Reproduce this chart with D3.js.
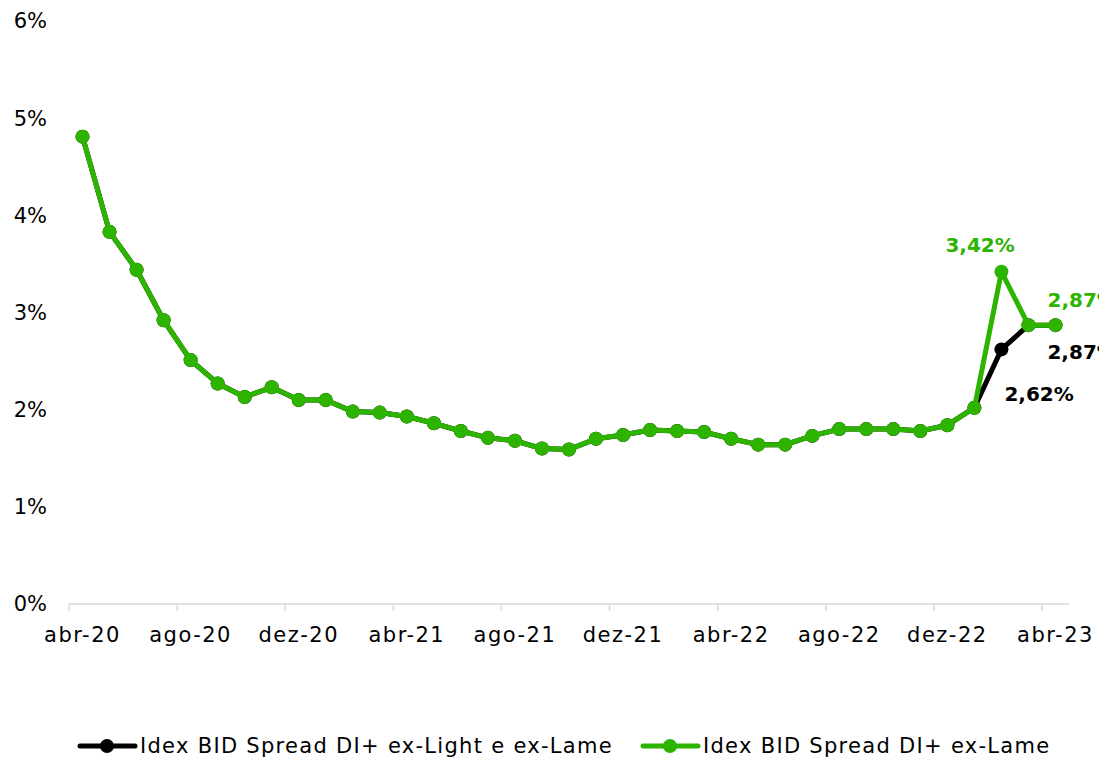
<!DOCTYPE html>
<html>
<head>
<meta charset="utf-8">
<script src="https://cdn.jsdelivr.net/npm/d3@7"></script>
<style>
  body { margin: 0; background: #fff; }
  text { font-family: "DejaVu Sans", sans-serif; }
</style>
</head>
<body>
<script>
var width = 1099;
var height = 757;

var months = ["abr-20","mai-20","jun-20","jul-20","ago-20","set-20","out-20","nov-20","dez-20",
  "jan-21","fev-21","mar-21","abr-21","mai-21","jun-21","jul-21","ago-21","set-21","out-21","nov-21","dez-21",
  "jan-22","fev-22","mar-22","abr-22","mai-22","jun-22","jul-22","ago-22","set-22","out-22","nov-22","dez-22",
  "jan-23","fev-23","mar-23","abr-23"];

var exLame = [4.81,3.83,3.44,2.92,2.51,2.27,2.13,2.23,2.10,2.10,1.98,1.97,1.93,1.86,1.78,1.71,1.68,1.60,1.59,
  1.70,1.74,1.79,1.78,1.77,1.70,1.64,1.64,1.73,1.80,1.80,1.80,1.78,1.84,2.02,3.42,2.87,2.87];
var exLightLame = [4.81,3.83,3.44,2.92,2.51,2.27,2.13,2.23,2.10,2.10,1.98,1.97,1.93,1.86,1.78,1.71,1.68,1.60,1.59,
  1.70,1.74,1.79,1.78,1.77,1.70,1.64,1.64,1.73,1.80,1.80,1.80,1.78,1.84,2.02,2.62,2.87,2.87];

var yTicks = [0, 1, 2, 3, 4, 5, 6];
var xTickLabels = ["abr-20","ago-20","dez-20","abr-21","ago-21","dez-21","abr-22","ago-22","dez-22","abr-23"];

var black = "#000000";
var green = "#2db400";

var svg = d3.select("body")
    .append("svg")
    .attr("width", width)
    .attr("height", height);

var x = d3.scaleBand()
    .domain(months)
    .range([69, 1069]);

var y = d3.scaleLinear()
    .domain([0, 6])
    .range([604, 21]);

// y labels
svg.append('g')
    .selectAll('text')
    .data(yTicks)
    .join('text')
    .attr('x', 47)
    .attr('y', d => y(d))
    .attr('dy', '0.35em')
    .attr('text-anchor', 'end')
    .attr('font-size', 21)
    .attr('fill', '#000')
    .text(d => d + '%');

// x axis line + ticks at band edges
svg.append('line')
    .attr('x1', x.range()[0])
    .attr('x2', x.range()[1])
    .attr('y1', y(0))
    .attr('y2', y(0))
    .attr('stroke', '#d9d9d9')
    .attr('stroke-width', 1.5);

svg.append('g')
    .selectAll('line')
    .data(xTickLabels)
    .join('line')
    .attr('x1', d => x(d))
    .attr('x2', d => x(d))
    .attr('y1', y(0))
    .attr('y2', y(0) + 7)
    .attr('stroke', '#d9d9d9')
    .attr('stroke-width', 1.5);

svg.append('g')
    .selectAll('text')
    .data(xTickLabels)
    .join('text')
    .attr('x', d => x(d) + x.bandwidth() / 2)
    .attr('y', y(0) + 38)
    .attr('text-anchor', 'middle')
    .attr('font-size', 21)
    .attr('letter-spacing', 1.5)
    .attr('fill', '#000')
    .text(d => d);

function drawSeries(values, color) {
    var line = d3.line()
        .x((d, i) => x(months[i]) + x.bandwidth() / 2)
        .y(d => y(d));

    svg.append('path')
        .datum(values)
        .attr('d', line)
        .attr('fill', 'none')
        .attr('stroke', color)
        .attr('stroke-width', 5)
        .attr('stroke-linejoin', 'round');

    svg.append('g')
        .selectAll('circle')
        .data(values)
        .join('circle')
        .attr('cx', (d, i) => x(months[i]) + x.bandwidth() / 2)
        .attr('cy', d => y(d))
        .attr('r', 7)
        .attr('fill', color);
}

drawSeries(exLightLame, black);
drawSeries(exLame, green);

// data labels
var labels = [
    { i: 34, v: exLame[34], color: green, dx: -56, dy: -20 },
    { i: 36, v: exLame[36], color: green, dx: -8, dy: -18 },
    { i: 35, v: exLightLame[35], color: black, dx: 19, dy: 34 },
    { i: 34, v: exLightLame[34], color: black, dx: 3, dy: 52 }
];

svg.append('g')
    .selectAll('text')
    .data(labels)
    .join('text')
    .attr('x', d => x(months[d.i]) + x.bandwidth() / 2 + d.dx)
    .attr('y', d => y(d.v) + d.dy)
    .attr('font-size', 20)
    .attr('font-weight', 'bold')
    .attr('fill', d => d.color)
    .text(d => d3.format('.2f')(d.v).replace('.', ',') + '%');

// legend
var legend = [
    { name: "Idex BID Spread DI+ ex-Light e ex-Lame", color: black, x: 80 },
    { name: "Idex BID Spread DI+ ex-Lame", color: green, x: 643 }
];

var lg = svg.append('g')
    .selectAll('g')
    .data(legend)
    .join('g')
    .attr('transform', d => `translate(${d.x}, 746)`);

lg.append('line')
    .attr('x1', 0)
    .attr('x2', 55)
    .attr('stroke', d => d.color)
    .attr('stroke-width', 5)
    .attr('stroke-linecap', 'round');

lg.append('circle')
    .attr('cx', 27)
    .attr('r', 7)
    .attr('fill', d => d.color);

lg.append('text')
    .attr('x', 60)
    .attr('dy', '0.35em')
    .attr('font-size', 21)
    .attr('letter-spacing', 1.3)
    .attr('fill', '#000')
    .text(d => d.name);
</script>
</body>
</html>
